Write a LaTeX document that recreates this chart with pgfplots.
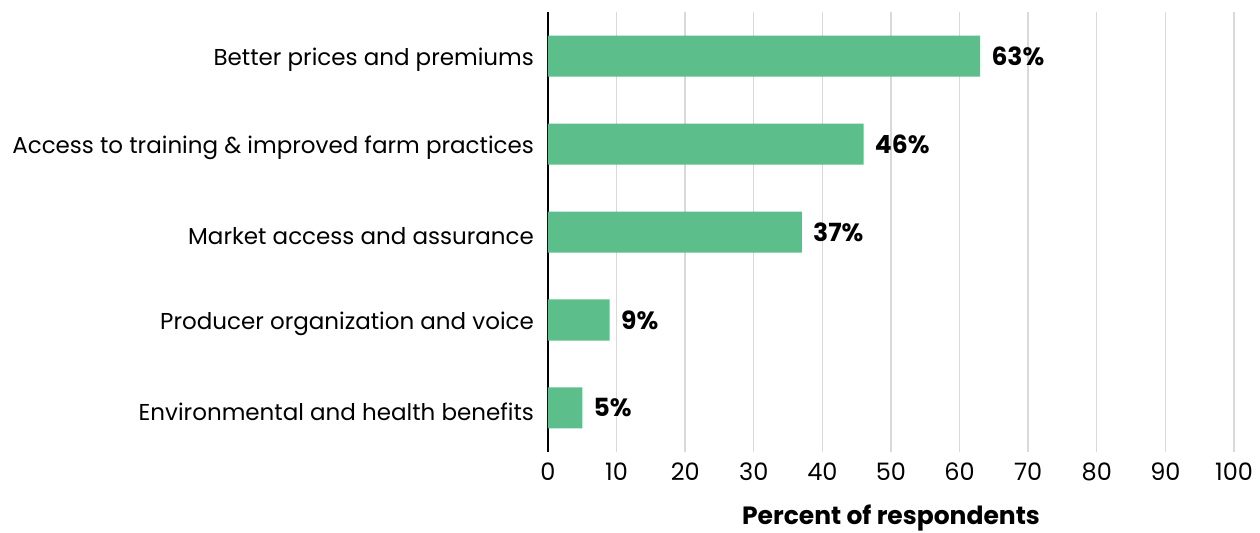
\documentclass[border=0pt]{standalone}
\usepackage{fontspec}
\setmainfont{Poppins}
\usepackage{pgfplots}
\pgfplotsset{compat=1.18}
\definecolor{barGreen}{HTML}{5CBE8A}
\definecolor{gridGray}{HTML}{D9D9D9}
\begin{document}
\fontsize{11.5pt}{13pt}\selectfont
\begin{tikzpicture}
\begin{axis}[
    xbar,
    scale only axis,
    width=343pt, height=220pt,
    xmin=0, xmax=100,
    ymin=-0.5, ymax=4.5,
    y dir=reverse,
    bar width=20.5pt,
    xtick={0,10,...,100},
    ytick={0,1,2,3,4},
    yticklabels={Better prices and premiums,
                 Access to training \& improved farm practices,
                 Market access and assurance,
                 Producer organization and voice,
                 Environmental and health benefits},
    major tick length=0pt,
    axis x line*=bottom,
    axis y line*=left,
    x axis line style={draw=none},
    y axis line style={black, line width=1.2pt},
    xmajorgrids=true,
    grid style={gridGray, line width=0.7pt},
    yticklabel style={xshift=-3pt, yshift=-2pt, font=\fontsize{11.5pt}{13pt}\selectfont},
    xticklabel style={yshift=-1.5pt, font=\fontsize{12pt}{13pt}\selectfont},
    /pgf/number format/assume math mode=true,
    xlabel={\textbf{Percent of respondents}},
    xlabel style={font=\fontsize{12.5pt}{14pt}\selectfont, yshift=-4pt},
    nodes near coords={\textbf{\pgfmathprintnumber{\pgfplotspointmeta}\%}},
    nodes near coords style={anchor=west, inner sep=0pt, xshift=5.5pt, black,
        font=\fontsize{12.5pt}{14pt}\selectfont},
]
\addplot[fill=barGreen, draw=none] coordinates {(63,0) (46,1) (37,2) (9,3) (5,4)};
\end{axis}
\pgfresetboundingbox
\path[use as bounding box] (-274pt,-40.5pt) rectangle (356pt,226pt);
\end{tikzpicture}
\end{document}
